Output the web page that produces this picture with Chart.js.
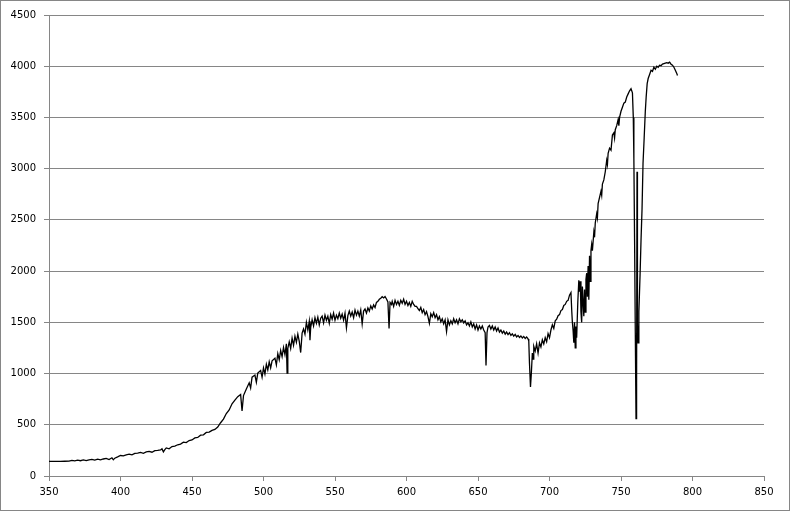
<!DOCTYPE html>
<html>
<head>
<meta charset="utf-8">
<script src="https://cdn.jsdelivr.net/npm/chart.js@4"></script>
<style>
	html, body { margin: 0; padding: 0; background: #fff; }
	#wrap { width: 790px; height: 511px; }
</style>
</head>
<body>
<div id="wrap"><canvas id="spectrumChart" width="790" height="511"></canvas></div>
<script>
var wavelength = [
	350, 352, 355, 358, 361, 364, 366, 368, 370, 372, 374, 376, 378, 380, 382, 384, 386, 388, 390, 392,
	394, 395, 396, 398, 400, 402, 404, 406, 408, 410, 412, 414, 416, 418, 420, 422, 424, 426, 428, 429,
	430, 431, 432, 434, 436, 438, 440, 442, 444, 446, 448, 450, 452, 454, 456, 458, 460, 462, 464, 466,
	468, 470, 472, 474, 476, 478, 480, 482, 484, 485, 486, 488, 490, 491, 492, 494, 495, 496, 498, 499,
	500, 501, 502, 503, 504, 505, 506, 508, 509, 510, 511, 512, 513, 514, 515, 516, 516.5, 517, 518, 519,
	520, 521, 522, 523, 524, 525, 526, 527, 528, 529, 530, 531, 532, 532.5, 533, 534, 535, 536, 537, 538,
	539, 540, 541, 542, 543, 544, 545, 546, 547, 548, 549, 550, 551, 552, 553, 554, 555, 556, 557, 558,
	559, 560, 561, 562, 563, 564, 565, 566, 567, 568, 569, 570, 571, 572, 573, 574, 575, 576, 577, 578,
	579, 580, 581, 582, 583, 584, 585, 586, 587, 587.8, 588.5, 589.5, 590, 591, 592, 593, 594, 595, 596, 597,
	598, 599, 600, 601, 602, 603, 604, 605, 606, 607, 608, 609, 610, 611, 612, 613, 614, 615, 616, 617,
	618, 619, 620, 621, 622, 623, 624, 625, 626, 627, 628, 629, 630, 631, 632, 633, 634, 635, 636, 637,
	638, 639, 640, 641, 642, 643, 644, 645, 646, 647, 648, 649, 650, 651, 652, 653, 654, 655, 655.6, 656.3,
	657, 658, 659, 660, 661, 662, 663, 664, 665, 666, 667, 668, 669, 670, 671, 672, 673, 674, 675, 676,
	677, 678, 679, 680, 681, 682, 683, 684, 685, 685.5, 686, 686.7, 687.3, 688, 688.6, 689, 690, 691, 692, 693,
	694, 695, 696, 697, 698, 699, 700, 701, 702, 703, 704, 705, 706, 707, 708, 709, 710, 711, 712, 713,
	714, 715, 715.6, 716, 716.5, 717, 717.5, 718, 718.5, 719, 719.8, 720.5, 721, 721.5, 722, 722.5, 723, 723.5, 724, 724.5,
	725, 725.5, 726, 726.5, 727, 727.5, 728, 728.5, 729, 729.5, 730, 731, 731.5, 732, 733, 733.5, 734, 735, 736, 736.5,
	737, 738, 739, 740, 740.5, 741, 742, 743, 744, 745, 745.5, 746, 747, 748, 748.5, 749, 750, 751, 752, 753,
	754, 755, 756, 757, 758, 758.6, 759, 759.5, 760, 760.5, 760.9, 761.2, 761.5, 761.9, 762.5, 763.3, 764, 764.7, 765.4, 766.2,
	767, 767.6, 768.3, 769, 770, 771, 772, 773, 774, 775, 776, 777, 778, 779, 780, 781, 782, 783, 784, 785,
	786, 787, 788, 789, 789.5
];
var intensity = [
	143, 143, 143, 143, 144, 145, 152, 147, 154, 149, 157, 151, 158, 162, 155, 164, 157, 166, 172, 160,
	178, 158, 174, 186, 200, 196, 207, 213, 206, 220, 224, 230, 222, 235, 240, 232, 248, 250, 254, 265,
	236, 258, 274, 265, 288, 292, 305, 312, 330, 326, 346, 352, 372, 376, 398, 402, 425, 428, 445, 455,
	478, 520, 555, 610, 645, 705, 740, 775, 795, 635, 785, 850, 910, 860, 965, 985, 915, 1005, 1030, 965,
	1055, 995, 1090, 1035, 1115, 1055, 1125, 1150, 1085, 1195, 1135, 1225, 1165, 1255, 1185, 1290, 1005, 1245, 1310, 1245,
	1345, 1275, 1365, 1305, 1385, 1315, 1205, 1395, 1435, 1385, 1500, 1425, 1510, 1325, 1450, 1525, 1465, 1545, 1490, 1550,
	1475, 1540, 1560, 1495, 1570, 1520, 1560, 1490, 1575, 1530, 1590, 1520, 1570, 1535, 1590, 1540, 1580, 1520, 1590, 1445,
	1565, 1610, 1560, 1600, 1545, 1620, 1570, 1610, 1560, 1620, 1485, 1610, 1630, 1590, 1640, 1610, 1660, 1630, 1670, 1645,
	1695, 1705, 1725, 1735, 1750, 1738, 1752, 1728, 1700, 1440, 1695, 1675, 1705, 1655, 1715, 1675, 1705, 1665, 1715, 1685,
	1725, 1675, 1705, 1665, 1695, 1655, 1705, 1675, 1655, 1655, 1635, 1615, 1645, 1595, 1625, 1575, 1605, 1555, 1490, 1585,
	1555, 1595, 1545, 1575, 1525, 1555, 1505, 1535, 1485, 1525, 1410, 1525, 1475, 1515, 1485, 1535, 1495, 1525, 1485, 1535,
	1505, 1525, 1495, 1515, 1475, 1495, 1465, 1505, 1455, 1485, 1435, 1475, 1425, 1465, 1435, 1465, 1425, 1400, 1080, 1400,
	1455, 1470, 1435, 1465, 1425, 1455, 1415, 1445, 1405, 1425, 1395, 1415, 1385, 1405, 1380, 1398, 1372, 1388, 1366, 1382,
	1358, 1372, 1352, 1367, 1348, 1362, 1342, 1357, 1338, 1320, 1100, 870, 1000, 1200, 1140, 1265, 1220, 1290, 1200, 1300,
	1260, 1330, 1290, 1350, 1310, 1390, 1350, 1425, 1475, 1440, 1515, 1530, 1565, 1575, 1615, 1625, 1665, 1675, 1705, 1715,
	1765, 1790, 1600, 1500, 1420, 1300, 1500, 1250, 1460, 1350, 1700, 1910, 1800, 1900, 1600, 1500, 1850, 1700, 1560, 1820,
	1600, 1920, 1980, 1750, 2050, 1720, 2150, 1900, 2200, 2260, 2200, 2380, 2330, 2470, 2560, 2520, 2660, 2720, 2780, 2740,
	2850, 2890, 2970, 3080, 3040, 3150, 3200, 3180, 3330, 3350, 3300, 3380, 3420, 3480, 3420, 3500, 3560, 3600, 3640, 3650,
	3700, 3730, 3760, 3780, 3740, 3500, 3100, 2300, 1400, 560, 900, 2970, 1500, 1300, 1600, 1950, 2300, 2600, 3050, 3300,
	3560, 3700, 3830, 3880, 3920, 3960, 3950, 3990, 3970, 4000, 3990, 4010, 4005, 4020, 4025, 4030, 4035, 4030, 4040, 4020,
	4010, 3990, 3960, 3930, 3910
];

var points = wavelength.map(function (w, i) {
	return { x: w, y: intensity[i] };
});

var axisGrey = '#868686';

// outer frame of the chart, like the spreadsheet chart box
var frame = {
	id: 'frame',
	afterDraw: function (chart) {
		var ctx = chart.ctx;
		ctx.save();
		ctx.strokeStyle = axisGrey;
		ctx.lineWidth = 1;
		ctx.strokeRect(0.5, 0.5, chart.width - 1, chart.height - 1);
		ctx.restore();
	},
};

// plain numbers, no thousands separator
function plain(value) {
	return String(value);
}

var spectrumChart = new Chart(document.getElementById('spectrumChart'), {
	type: 'line',
	data: {
		datasets: [
			{
				data: points,
				borderColor: '#000000',
				borderWidth: 1.3,
				pointRadius: 0,
				tension: 0,
				fill: false,
			},
		],
	},
	options: {
		responsive: false,
		animation: false,
		layout: {
			padding: { left: 0, right: 26, top: 15, bottom: 0 },
		},
		plugins: {
			legend: { display: false },
			tooltip: { enabled: false },
		},
		scales: {
			x: {
				type: 'linear',
				min: 350,
				max: 850,
				ticks: {
					stepSize: 50,
					color: '#000000',
					padding: 5,
					maxRotation: 0,
					callback: plain,
					font: { family: 'DejaVu Sans', size: 10 },
				},
				grid: {
					drawOnChartArea: false,
					drawTicks: true,
					tickLength: 5,
					color: axisGrey,
				},
				border: { display: true, color: axisGrey },
				afterFit: function (scale) {
					scale.height = 35;
				},
			},
			y: {
				min: 0,
				max: 4500,
				ticks: {
					stepSize: 500,
					color: '#000000',
					padding: 8,
					callback: plain,
					font: { family: 'DejaVu Sans', size: 10 },
				},
				grid: {
					color: axisGrey,
					drawTicks: true,
					tickLength: 5,
				},
				border: { display: true, color: axisGrey },
				afterFit: function (scale) {
					scale.width = 49;
				},
			},
		},
	},
	plugins: [frame],
});
</script>
</body>
</html>
